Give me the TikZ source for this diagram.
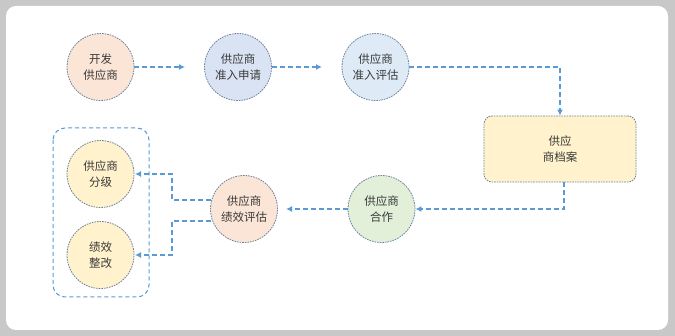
\documentclass[tikz,border=0pt]{standalone}
\usepackage{fontspec}
\newfontfamily\cjk{Noto Sans CJK SC}
\usetikzlibrary{arrows.meta}
\definecolor{bggray}{HTML}{C8C8C8}
\definecolor{edgec}{HTML}{6F819B}
\definecolor{arrowc}{HTML}{5B9BD5}
\definecolor{txt}{HTML}{3A3A3A}
\definecolor{peach}{HTML}{FBE5D6}
\definecolor{blueA}{HTML}{DAE3F3}
\definecolor{blueB}{HTML}{DEEBF7}
\definecolor{greenA}{HTML}{E2F0D9}
\definecolor{yellowA}{HTML}{FFF2CC}
\tikzset{
  circ/.style={circle, minimum size=67pt, inner sep=0pt, draw=edgec, line width=0.8pt,
    dash pattern=on 1.6pt off 1pt, align=center, font=\cjk\fontsize{11.5}{15.5}\selectfont, text=txt},
  boxnode/.style={rectangle, rounded corners=8pt, minimum width=152pt, minimum height=66pt,
    draw=edgec, line width=0.8pt, dash pattern=on 1.6pt off 1pt, align=center,
    font=\cjk\fontsize{11.5}{15.5}\selectfont, text=txt},
  conn/.style={draw=arrowc, line width=1.3pt, dash pattern=on 5pt off 3pt,
    -{Latex[length=6pt,width=6pt]}},
  grp/.style={draw=arrowc, line width=1pt, dash pattern=on 4pt off 3pt, rounded corners=12pt}
}
\begin{document}
\begin{tikzpicture}[x=1pt,y=-1pt]
\useasboundingbox (0,0) rectangle (675,336);
\fill[bggray] (0,0) rectangle (675,336);
\fill[white, rounded corners=10pt] (6,6) rectangle (668,330);

\node[circ, fill=peach] (dev) at (100.5,67) {开发\\供应商};
\node[circ, fill=blueA] (apply) at (238,67) {供应商\\准入申请};
\node[circ, fill=blueB] (eval) at (375.5,67) {供应商\\准入评估};
\node[boxnode, fill=yellowA] (file) at (560,149) {供应\\商档案};
\node[circ, fill=greenA] (coop) at (381.5,209) {供应商\\合作};
\node[circ, fill=peach] (perf) at (244,209) {供应商\\绩效评估};
\node[circ, fill=yellowA] (grade) at (100.5,174) {供应商\\分级};
\node[circ, fill=yellowA] (fix) at (100.5,255) {绩效\\整改};

\draw[grp] (53,128) rectangle (149,297);

\coordinate (a1) at (185,67);
\coordinate (a2) at (322,67);
\draw[conn] (dev.east) -- (a1);
\draw[conn] (apply.east) -- (a2);
\draw[conn] (eval.east) -| (file.north);
\draw[conn] (file.south -| 564,0) |- (coop.east);
\coordinate (a3) at (286,209);
\draw[conn] (coop.west) -- (a3);
\coordinate (u1) at (211,200);
\coordinate (l1) at (211,221);
\coordinate (t1) at (135,174);
\coordinate (t2) at (135,255);
\draw[conn] (u1) -- (172,200) |- (t1);
\draw[conn] (l1) -- (172,221) |- (t2);
\end{tikzpicture}
\end{document}
